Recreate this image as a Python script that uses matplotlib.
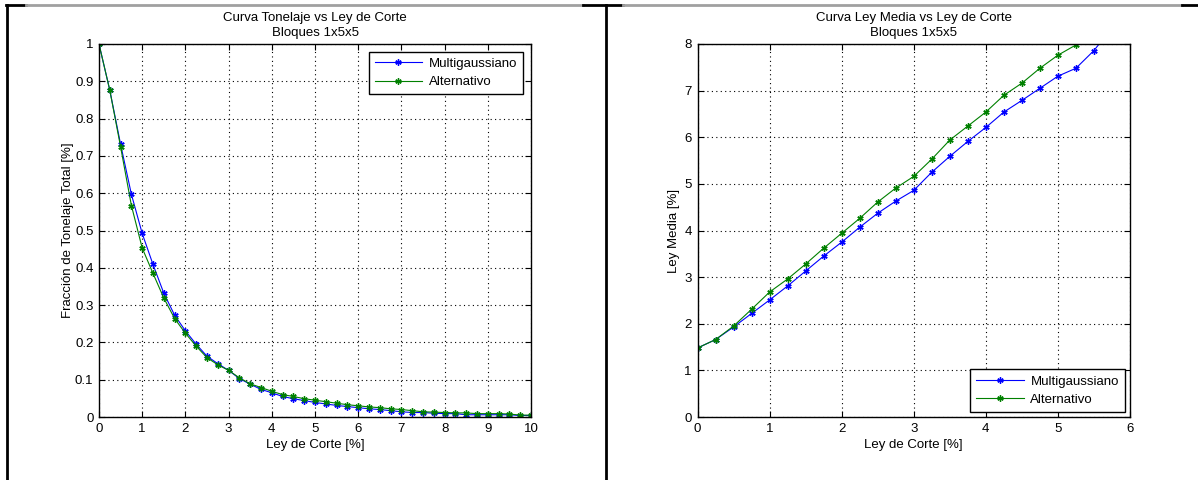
import numpy as np
import matplotlib
matplotlib.use("Agg")
import matplotlib.pyplot as plt
from matplotlib.lines import Line2D

plt.rcParams['font.family'] = ['Liberation Sans', 'DejaVu Sans']

# Curva tonelaje: ley de corte 0..10 cada 0.25
ley_corte_ton = np.arange(0, 10.01, 0.25)
ton_multigauss = [1.0, 0.876, 0.731, 0.597, 0.492, 0.409, 0.332, 0.273, 0.231, 0.195,
                  0.163, 0.143, 0.125, 0.103, 0.088, 0.074, 0.065, 0.055, 0.049, 0.044,
                  0.039, 0.035, 0.031, 0.028, 0.025, 0.022, 0.020, 0.017, 0.014, 0.012,
                  0.012, 0.010, 0.009, 0.009, 0.006, 0.006, 0.006, 0.006, 0.006, 0.004,
                  0.004]
ton_alternativo = [1.0, 0.876, 0.724, 0.567, 0.453, 0.385, 0.319, 0.264, 0.2245, 0.190,
                   0.159, 0.140, 0.125, 0.105, 0.089, 0.079, 0.069, 0.060, 0.055, 0.049,
                   0.045, 0.041, 0.037, 0.033, 0.030, 0.027, 0.025, 0.022, 0.020, 0.017,
                   0.014, 0.013, 0.012, 0.011, 0.011, 0.009, 0.009, 0.009, 0.008, 0.005,
                   0.005]

# Curva ley media
ley_corte_mg = np.arange(0, 5.76, 0.25)
media_multigauss = [1.48, 1.66, 1.93, 2.22, 2.51, 2.81, 3.13, 3.45, 3.75, 4.07,
                    4.37, 4.63, 4.86, 5.25, 5.59, 5.91, 6.21, 6.54, 6.79, 7.05,
                    7.31, 7.48, 7.86, 8.35]
ley_corte_alt = np.arange(0, 5.51, 0.25)
media_alternativo = [1.48, 1.66, 1.95, 2.31, 2.68, 2.96, 3.28, 3.62, 3.94, 4.26,
                     4.61, 4.91, 5.16, 5.53, 5.94, 6.24, 6.54, 6.90, 7.16, 7.48,
                     7.76, 7.98, 8.25]

AZUL = '#0000ff'
VERDE = '#008000'
FS = 9.5
ASTERISCO = (6, 2, 0)
estilo_linea = dict(marker=ASTERISCO, lw=0.8, ms=4.5, mew=1.0)


def estilo_matlab(ax):
    ax.tick_params(direction='in', top=True, right=True, labelsize=FS,
                   length=4, width=0.8, pad=4)
    ax.grid(True, color='black', linestyle=(0, (1, 3)), linewidth=0.8)
    for sp in ax.spines.values():
        sp.set_linewidth(1.0)


def leyenda(ax, loc, margen):
    leg = ax.legend(loc=loc, fontsize=FS, fancybox=False, edgecolor='black',
                    framealpha=1, handlelength=3.6, borderaxespad=margen,
                    borderpad=0.45, labelspacing=0.45, handletextpad=0.5)
    leg.get_frame().set_linewidth(1.0)


fig = plt.figure(figsize=(11.98, 4.8), dpi=100)

# Panel izquierdo
ax1 = fig.add_axes([99 / 1198, 63 / 480, 432 / 1198, 373 / 480])
ax1.plot(ley_corte_ton, ton_multigauss, color=AZUL, label='Multigaussiano', **estilo_linea)
ax1.plot(ley_corte_ton, ton_alternativo, color=VERDE, label='Alternativo', **estilo_linea)
ax1.set_xlim(0, 10)
ax1.set_ylim(0, 1)
ax1.set_xticks(range(0, 11))
ax1.set_yticks(np.arange(0, 1.01, 0.1))
ax1.set_yticklabels(['0', '0.1', '0.2', '0.3', '0.4', '0.5', '0.6', '0.7', '0.8', '0.9', '1'])
ax1.set_title('Curva Tonelaje vs Ley de Corte\nBloques 1x5x5', fontsize=FS,
              pad=6, linespacing=1.25)
ax1.set_xlabel('Ley de Corte [%]', fontsize=FS, labelpad=3)
ax1.set_ylabel('Fracción de Tonelaje Total [%]', fontsize=FS, labelpad=1)
estilo_matlab(ax1)
leyenda(ax1, 'upper right', 0.6)

# Panel derecho
ax2 = fig.add_axes([697.5 / 1198, 63 / 480, 432.5 / 1198, 373 / 480])
ax2.plot(ley_corte_mg, media_multigauss, color=AZUL, label='Multigaussiano', **estilo_linea)
ax2.plot(ley_corte_alt, media_alternativo, color=VERDE, label='Alternativo', **estilo_linea)
ax2.set_xlim(0, 6)
ax2.set_ylim(0, 8)
ax2.set_xticks(range(0, 7))
ax2.set_yticks(range(0, 9))
ax2.set_title('Curva Ley Media vs Ley de Corte\nBloques 1x5x5', fontsize=FS,
              pad=6, linespacing=1.25)
ax2.set_xlabel('Ley de Corte [%]', fontsize=FS, labelpad=3)
ax2.set_ylabel('Ley Media [%]', fontsize=FS, labelpad=3)
estilo_matlab(ax2)
leyenda(ax2, 'lower right', 0.4)

# Marcos de las ventanas
def linea(x0, y0, x1, y1, color='black', lw=2.0):
    fig.add_artist(Line2D([x0 / 1198, x1 / 1198], [1 - y0 / 480, 1 - y1 / 480],
                          color=color, lw=lw, transform=fig.transFigure))

linea(7, 4.5, 7, 480)
linea(605.5, 4.5, 605.5, 480)
linea(6, 5, 26, 5)
linea(26, 5, 583, 5, color='#a0a0a0')
linea(583, 5, 623, 5)
linea(623, 5, 1182, 5, color='#a0a0a0')
linea(1182, 5, 1198, 5)

fig.savefig('out.png', dpi=100)
